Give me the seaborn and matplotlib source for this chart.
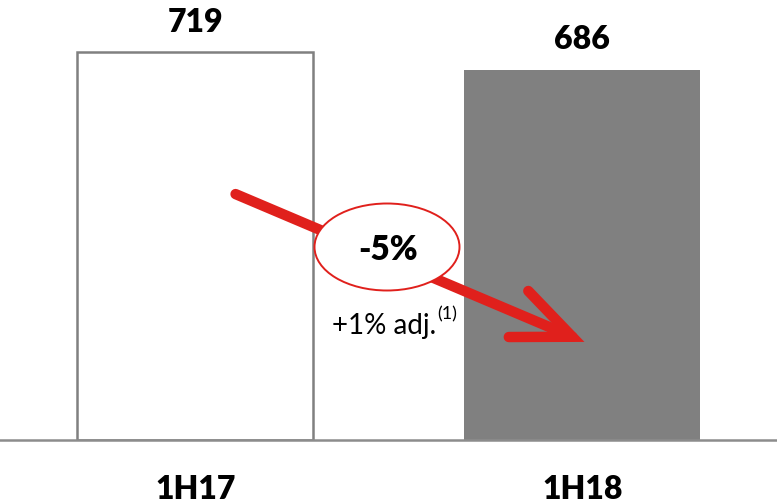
import matplotlib
matplotlib.use("Agg")
import matplotlib.pyplot as plt
from matplotlib.patches import Ellipse, FancyArrowPatch
import seaborn as sns

# Half-year totals
periods = ["1H17", "1H18"]
totals = [719, 686]
change_label = "-5%"
adjusted_label = "+1% adj."
footnote_mark = "(1)"

sns.set_theme(style="white")
plt.rcParams["font.family"] = ["Lato", "DejaVu Sans"]

fig = plt.figure(figsize=(7.77, 5.04), dpi=100)
ax = fig.add_axes([0, 64 / 504, 1, 440 / 504])

sns.barplot(x=periods, y=totals, hue=periods, palette=["white", "#808080"],
            width=0.61, legend=False, ax=ax, saturation=1)

# outline on the first (hollow) bar only
bars = ax.patches
bars[0].set_edgecolor("#808080")
bars[0].set_linewidth(1.8)
bars[1].set_linewidth(0)

ax.bar_label(ax.containers[0], labels=[str(v) for v in totals[:1]],
             padding=11, fontsize=23, fontweight="heavy", color="black")
ax.bar_label(ax.containers[1], labels=[str(v) for v in totals[1:]],
             padding=11, fontsize=23, fontweight="heavy", color="black")

ax.set_xlim(-0.505, 1.503)
ax.set_ylim(0, 815)
ax.set_xlabel("")
ax.set_ylabel("")
ax.set_yticks([])
ax.tick_params(axis="x", length=0, pad=25, labelsize=23)
for lbl in ax.get_xticklabels():
    lbl.set_fontweight("heavy")
    lbl.set_color("black")
for side in ("top", "left", "right"):
    ax.spines[side].set_visible(False)
ax.spines["bottom"].set_color("#8c8c8c")
ax.spines["bottom"].set_linewidth(1.8)


def fx(px):
    return px / 777


def fy(py):
    return 1 - py / 504


# red trend arrow
arrow = FancyArrowPatch((fx(233), fy(193)), (fx(587), fy(343)),
                        transform=fig.transFigure,
                        arrowstyle="->,head_length=42,head_width=18",
                        mutation_scale=1, color="#e0201c", linewidth=7.5,
                        capstyle="round", joinstyle="miter", zorder=5)
fig.patches.append(arrow)

# ellipse badge holding the change
badge = Ellipse((fx(387), fy(247)), 145 / 777, 87 / 504,
                transform=fig.transFigure, facecolor="white",
                edgecolor="#e0201c", linewidth=1.4, zorder=6)
fig.patches.append(badge)

fig.text(fx(388), fy(250), change_label, ha="center", va="center",
         fontsize=24, fontweight="heavy", color="black", zorder=7)
fig.text(fx(436), fy(326), adjusted_label, ha="right", va="center",
         fontsize=20, color="black", zorder=7)
fig.text(fx(437), fy(314), footnote_mark, ha="left", va="center",
         fontsize=13, color="black", zorder=7)

fig.savefig("out.png", dpi=100)
